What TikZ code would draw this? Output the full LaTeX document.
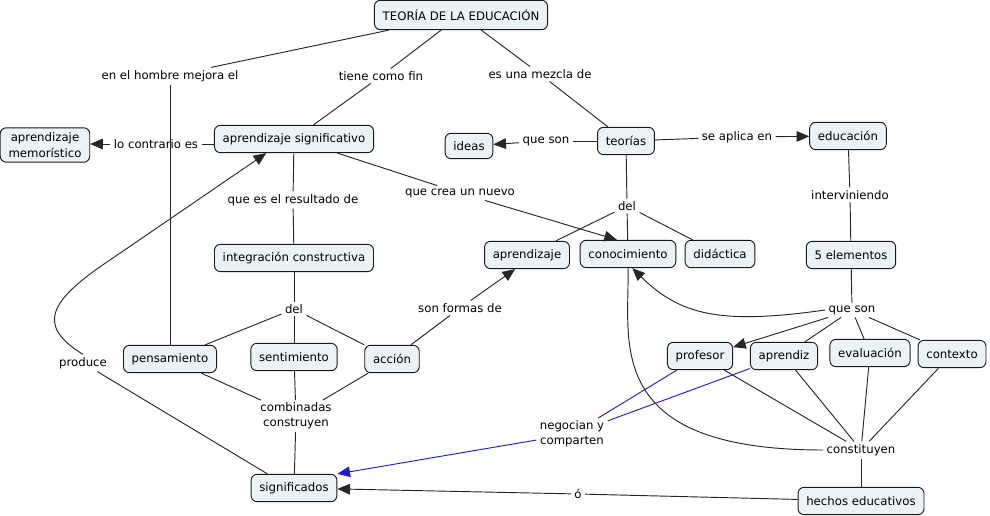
\documentclass[tikz,border=0pt]{standalone}
\usepackage{fontspec}
\setmainfont{DejaVu Sans}
\usetikzlibrary{arrows.meta,calc}
\definecolor{boxfill}{RGB}{236,243,246}
\definecolor{linkblue}{RGB}{30,30,200}
\begin{document}
\begin{tikzpicture}[x=0.75pt,y=-0.75pt,
  font=\fontsize{8.8}{11}\selectfont,
  concept/.style={draw=black!90, line width=0.7pt, fill=boxfill, rounded corners=4.5pt,
    minimum height=20.5pt, inner xsep=6.2pt, inner ysep=2pt, align=center},
  phrase/.style={inner xsep=2.5pt, inner ysep=2pt, align=center},
  link/.style={draw=black!85, line width=0.7pt},
  arr/.style={link, -{Triangle[length=9.5pt,width=8pt]}},
  blink/.style={draw=linkblue, line width=0.7pt},
  barr/.style={blink, -{Triangle[length=9.5pt,width=8pt]}},
]
\useasboundingbox (0,0) rectangle (990,516);

% concepts
\node[concept, minimum height=22pt] (teoria) at (461,15) {TEORÍA DE LA EDUCACIÓN};
\node[concept, font=\fontsize{8.8}{12}\selectfont, inner ysep=3.5pt] (memo) at (45,145) {aprendizaje\\memorístico};
\node[concept] (aprsig) at (294,139) {aprendizaje significativo};
\node[concept, minimum height=19pt] (ideas) at (469,146) {ideas};
\node[concept] (teorias) at (626,141) {teorías};
\node[concept] (educacion) at (848,136) {educación};
\node[concept] (aprendizaje) at (527,255) {aprendizaje};
\node[concept] (conocimiento) at (628,254) {conocimiento};
\node[concept] (didactica) at (720,254) {didáctica};
\node[concept] (cinco) at (851,255) {5 elementos};
\node[concept] (integ) at (294,258) {integración constructiva};
\node[concept] (pensamiento) at (170,359) {pensamiento};
\node[concept] (sentimiento) at (294,357) {sentimiento};
\node[concept] (accion) at (392,359) {acción};
\node[concept] (profesor) at (700,356) {profesor};
\node[concept] (aprendiz) at (784,356) {aprendiz};
\node[concept] (evaluacion) at (870,353) {evaluación};
\node[concept] (contexto) at (952,354) {contexto};
\node[concept] (significados) at (294,488) {significados};
\node[concept] (hechos) at (861,501) {hechos educativos};

% linking phrases
\node[phrase] (enhombre) at (170,76) {en el hombre mejora el};
\node[phrase] (tiene) at (381,76) {tiene como fin};
\node[phrase] (mezcla) at (540,74) {es una mezcla de};
\node[phrase] (contrario) at (156,144) {lo contrario es};
\node[phrase] (resultado) at (293,200) {que es el resultado de};
\node[phrase] (creanuevo) at (460,193) {que crea un nuevo};
\node[phrase] (queson1) at (546,141) {que son};
\node[phrase] (seaplica) at (737,137) {se aplica en};
\node[phrase] (del1) at (627,206) {del};
\node[phrase] (intervin) at (850,195) {interviniendo};
\node[phrase] (del2) at (294,309) {del};
\node[phrase] (formas) at (460,308) {son formas de};
\node[phrase] (produce) at (83,363) {produce};
\node[phrase] (combinadas) at (296,416) {combinadas\\construyen};
\node[phrase] (queson2) at (852,310) {que son};
\node[phrase] (negocian) at (572,434) {negocian y\\comparten};
\node[phrase] (constituyen) at (861,450) {constituyen};
\node[phrase] (o) at (578,494) {ó};

% connectors
\draw[link] (teoria) -- (enhombre);
\draw[link] (enhombre) -- (pensamiento);
\draw[link] (teoria) -- (tiene);
\draw[link] (tiene) -- (aprsig);
\draw[link] (teoria) -- (mezcla);
\draw[link] (mezcla) -- (teorias);
\draw[link] (aprsig.west |- contrario) -- (contrario);
\draw[arr] (contrario) -- (memo.east |- contrario);
\draw[link] (aprsig) -- (resultado);
\draw[link] (resultado) -- (integ);
\draw[link] (aprsig) -- (creanuevo);
\draw[arr] (creanuevo) -- (conocimiento.128);
\draw[link] (teorias) -- (queson1);
\draw[arr] (queson1) -- (ideas);
\draw[link] (teorias) -- (seaplica);
\draw[arr] (seaplica) -- (educacion);
\draw[link] (teorias) -- (del1);
\draw[link] (del1) -- (aprendizaje);
\draw[link] (del1) -- (conocimiento);
\draw[link] (del1) -- (didactica);
\draw[link] (educacion) -- (intervin);
\draw[link] (intervin) -- (cinco);
\draw[link] (cinco) -- (queson2);
\draw[arr] (queson2.west) .. controls (720,325) and (680,315) .. (conocimiento.-73);
\draw[arr] (queson2) -- (profesor.15);
\draw[link] (queson2) -- (aprendiz);
\draw[link] (queson2) -- (evaluacion);
\draw[link] (queson2) -- (contexto);
\draw[link] (profesor) -- (constituyen);
\draw[link] (aprendiz) -- (constituyen);
\draw[link] (evaluacion) -- (constituyen);
\draw[link] (contexto) -- (constituyen);
\draw[link] (constituyen) -- (hechos);
\draw[link] (constituyen.west) .. controls (600,450) and (630,340) .. (conocimiento.south);
\draw[blink] (profesor) -- (negocian);
\draw[blink] (aprendiz) -- (negocian);
\draw[barr] (negocian) -- (significados.18);
\draw[link] (hechos) -- (o);
\draw[arr] (o) -- (significados);
\draw[arr] (produce.north) .. controls (35,325) and (50,300) .. (110,260) -- (aprsig.-153);
\draw[link] (produce) -- (significados.152);
\draw[link] (integ) -- (del2);
\draw[link] (del2) -- (pensamiento);
\draw[link] (del2) -- (sentimiento);
\draw[link] (del2) -- (accion);
\draw[link] (pensamiento) -- (combinadas);
\draw[link] (sentimiento) -- (combinadas);
\draw[link] (accion) -- (combinadas);
\draw[link] (combinadas) -- (significados);
\draw[link] (accion) -- (formas);
\draw[arr] (formas) -- (aprendizaje.-130);
\end{tikzpicture}
\end{document}
